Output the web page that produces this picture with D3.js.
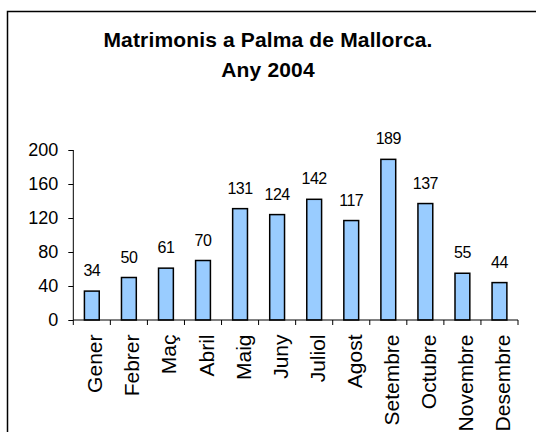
<!DOCTYPE html>
<html><head><meta charset="utf-8">
<script src="https://cdn.jsdelivr.net/npm/d3@7"></script>
<style>
html,body{margin:0;padding:0;background:#fff;}
svg{display:block;}
</style></head>
<body>
<svg id="chart" width="536" height="432"></svg>
<script>
const months = ["Gener","Febrer","Maç","Abril","Maig","Juny","Juliol","Agost","Setembre","Octubre","Novembre","Desembre"];
const marriages = [34,50,61,70,131,124,142,117,189,137,55,44];
const yTicks = [0,40,80,120,160,200];
const titleLines = ["Matrimonis a Palma de Mallorca.","Any 2004"];

const svg = d3.select("#chart");
const font = "'Liberation Sans', Arial, sans-serif";

svg.append("rect").attr("x",7.5).attr("y",11.5).attr("width",600).attr("height",600)
  .attr("fill","#fff").attr("stroke","#000").attr("stroke-width",1.5);

const x = d3.scaleBand().domain(months).range([73.3,518]).paddingInner(0.6).paddingOuter(0.3);
const y = d3.scaleLinear().domain([0,200]).range([320,150]);

svg.append("g").selectAll("text").data(titleLines).join("text")
  .attr("x",268).attr("y",(d,i)=>46.5+i*30)
  .attr("text-anchor","middle").attr("font-family",font).attr("font-weight","bold")
  .attr("font-size",21).attr("letter-spacing",0.15).attr("fill","#000").text(d=>d);

svg.append("g").selectAll("rect").data(marriages).join("rect")
  .attr("x",(d,i)=>x(months[i])).attr("width",x.bandwidth())
  .attr("y",d=>y(d)).attr("height",d=>y(0)-y(d))
  .attr("fill","#99CCFF").attr("stroke","#000").attr("stroke-width",1.5);

svg.append("g").selectAll("text").data(marriages).join("text")
  .attr("x",(d,i)=>x(months[i])+x.bandwidth()/2).attr("y",d=>y(d)-15)
  .attr("text-anchor","middle").attr("font-family",font).attr("font-size",16)
  .attr("letter-spacing",-0.5).text(d=>d);

const yAxis = svg.append("g").attr("transform","translate(73.3,0)")
  .call(d3.axisLeft(y).tickValues(yTicks).tickSize(5).tickPadding(10).tickFormat(d3.format("d")));
yAxis.select(".domain").attr("stroke","#000").attr("d","M0,150V320");
yAxis.selectAll(".tick line").attr("stroke","#000");
yAxis.selectAll("text").attr("font-family",font).attr("font-size",18).attr("fill","#000");

const xAxis = svg.append("g").attr("transform","translate(0,320)")
  .call(d3.axisBottom(x).tickSize(0).tickFormat(d=>d));
xAxis.select(".domain").attr("stroke","#000").attr("d","M73.3,0H518");
xAxis.selectAll("text").attr("font-family",font).attr("font-size",21).attr("fill","#000")
  .attr("transform","rotate(-90)").attr("text-anchor","end")
  .attr("x",-14.5).attr("y",0).attr("dy","0.5em");
const bounds = months.map((m,i)=>73.3+i*x.step()).concat([518]);
xAxis.append("g").selectAll("line").data(bounds).join("line")
  .attr("x1",d=>d).attr("x2",d=>d).attr("y1",0).attr("y2",5).attr("stroke","#000");
</script>
</body></html>
